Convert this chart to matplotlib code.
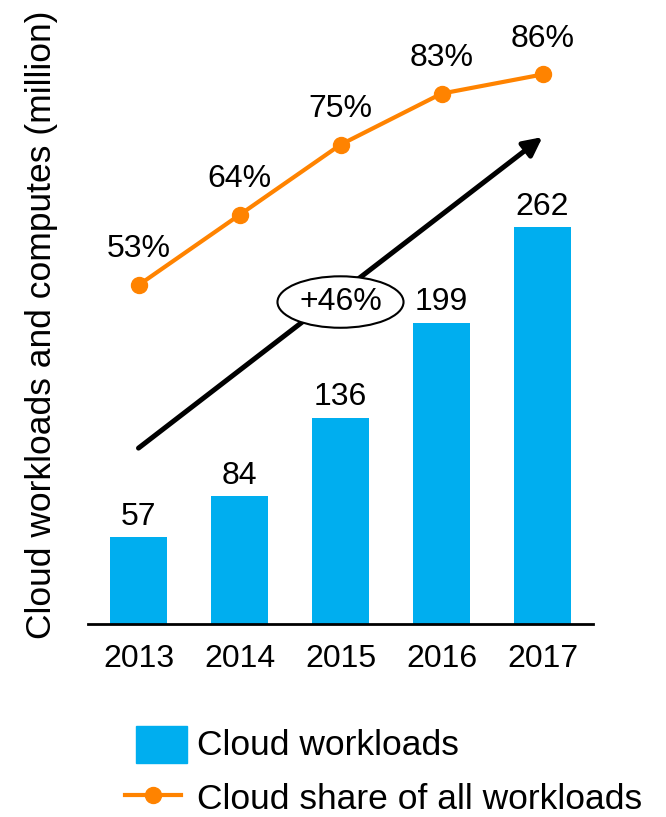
import matplotlib; matplotlib.use("Agg")
import matplotlib.pyplot as plt
from matplotlib.patches import Patch, Rectangle
from matplotlib.lines import Line2D
from matplotlib.legend_handler import HandlerPatch

years = ["2013", "2014", "2015", "2016", "2017"]
workloads = [57, 84, 136, 199, 262]
share = [53, 64, 75, 83, 86]
growth_label = "+46%"

BLUE = "#00AEEF"; ORANGE = "#FF8300"
plt.rcParams["font.family"] = ["Liberation Sans", "DejaVu Sans"]
FS = 23      # numbers
FS_TXT = 25.5  # words

fig = plt.figure(figsize=(6.66, 8.17), dpi=100)
W, H = 666, 817
ax = fig.add_axes([88 / W, 1 - 623.5 / H, 505 / W, 583.5 / H])
x = list(range(len(years)))
ax.bar(x, workloads, width=0.555, color=BLUE, zorder=2)
ax.set_xlim(-0.5, 4.5); ax.set_ylim(0, 385.9)
for s in ["top", "right", "left"]:
    ax.spines[s].set_visible(False)
ax.spines["bottom"].set_linewidth(2)
ax.set_yticks([])
ax.set_xticks(x, years, fontsize=FS)
ax.tick_params(axis="x", length=0, pad=15)
for xi, v in zip(x, workloads):
    ax.annotate(str(v), (xi, v), xytext=(0, 4), textcoords="offset points",
                ha="center", va="bottom", fontsize=FS)

# growth arrow + ellipse label
ax.annotate("", xy=(4.0, 321.7), xytext=(0, 116),
            arrowprops=dict(arrowstyle="-|>", lw=3.6, color="black",
                            mutation_scale=28, shrinkA=0, shrinkB=0), zorder=3)
ax.text(2.0, 212.6, growth_label, ha="center", va="center", fontsize=FS, zorder=4,
        bbox=dict(boxstyle="ellipse,pad=0.1", fc="white", ec="black", lw=1.5))

ax2 = ax.twinx()
ax2.set_ylim(0, 91.4)
ax2.axis("off")
ax2.plot(x, share, color=ORANGE, lw=3, marker="o", ms=11.5, zorder=3)
for xi, v in zip(x, share):
    ax2.annotate(f"{v}%", (xi, v), xytext=(0, 15), textcoords="offset points",
                 ha="center", va="bottom", fontsize=FS)

fig.text(42 / W, 1 - 325 / H, "Cloud workloads and computes (million)", rotation=90,
         ha="center", va="center", fontsize=FS_TXT)

def square(legend, orig_handle, xdescent, ydescent, width, height, fontsize):
    return Rectangle((-xdescent + 0.2 * width, -ydescent - 2), 0.9 * width, height + 2)

handles = [Patch(color=BLUE), Line2D([], [], color=ORANGE, lw=3, marker="o", ms=11.5)]
fig.legend(handles, ["Cloud workloads", "Cloud share of all workloads"],
           loc="upper left", bbox_to_anchor=(125 / W, 1 - 726 / H), frameon=False,
           fontsize=FS_TXT, handlelength=1.58, handleheight=1.13, handletextpad=0.45,
           labelspacing=0.5, borderpad=0, borderaxespad=0,
           handler_map={Patch: HandlerPatch(patch_func=square)})

fig.savefig("out.png", dpi=100, facecolor="white")
